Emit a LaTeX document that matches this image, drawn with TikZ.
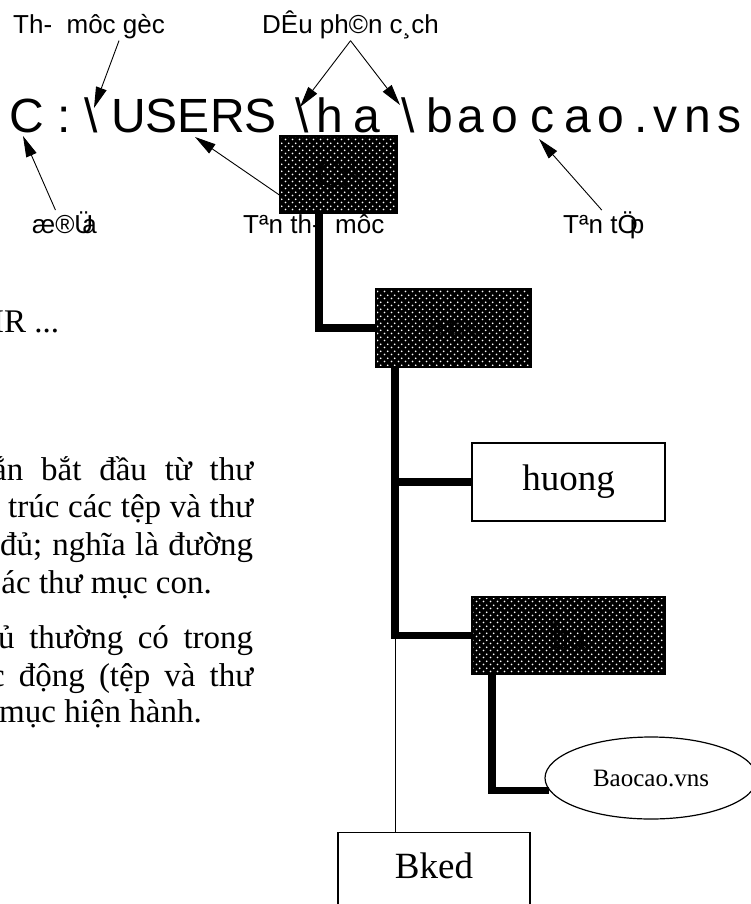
\documentclass[tikz,border=0pt]{standalone}
\usepackage{fontspec}
\setmainfont{Liberation Serif}
\newfontfamily\labelfont{Liberation Sans}
\usepackage{tikz}
\usetikzlibrary{shapes.geometric, arrows.meta, patterns.meta, calc}
\tikzdeclarepattern{
  name=boxdots,
  type=uncolored,
  bottom left={(0pt,0pt)},
  top right={(6.6pt,6.6pt)},
  tile size={(6.6pt,6.6pt)},
  code={
    \fill (1.65pt,1.65pt) circle (0.95pt);
    \fill (4.95pt,4.95pt) circle (0.95pt);
  }
}
\tikzstyle{darkbox} = [draw=black, line width=1.2pt, rectangle, inner sep=0pt, preaction={fill=black}, pattern=boxdots, pattern color=white, text=black, font=\fontsize{37}{44}\selectfont]
\tikzstyle{plainbox} = [draw=black, line width=1.2pt, rectangle, inner sep=0pt, fill=white, font=\fontsize{37}{44}\selectfont]
\tikzstyle{tagtext} = [font=\labelfont\fontsize{26}{31}\selectfont, inner sep=1pt, anchor=base west]
\tikzstyle{pathchar} = [font=\labelfont\fontsize{48}{58}\selectfont, inner sep=0pt, anchor=base]
\tikzstyle{parline} = [font=\fontsize{33}{40}\selectfont, inner sep=0pt, anchor=base west]
\tikzstyle{pointer} = [line width=0.9pt, -{Triangle[length=21pt,width=11pt]}]
\tikzstyle{treeline} = [line width=7.5pt]
\tikzstyle{thinline} = [line width=1pt]

\begin{document}
\begin{tikzpicture}[x=1pt, y=-1pt]
    \useasboundingbox (0,0) rectangle (751,904);
    \clip (0,0) rectangle (751,904);

    % Captions above the path
    \node (lblRoot) [tagtext] at (12,34) {Th-\ \ môc gèc};
    \node (lblSep) [tagtext] at (261,34) {DÊu ph©n c¸ch};

    % The path, letter by letter
    \node (pC) [pathchar] at (27,133) {C};
    \node (pColon) [pathchar] at (64,133) {:};
    \node (pBs1) [pathchar] at (91,133) {\textbackslash};
    \node (pUsers) [pathchar] at (194,133) {USERS};
    \node (pBs2) [pathchar] at (302,133) {\textbackslash};
    \node (pH) [pathchar] at (330,133) {h};
    \node (pA1) [pathchar] at (367,133) {a};
    \node (pBs3) [pathchar] at (408,133) {\textbackslash};
    \node (pB) [pathchar] at (440,133) {b};
    \node (pA2) [pathchar] at (471,133) {a};
    \node (pO1) [pathchar] at (505,133) {o};
    \node (pC2) [pathchar] at (542,133) {c};
    \node (pA3) [pathchar] at (578,133) {a};
    \node (pO2) [pathchar] at (611,133) {o};
    \node (pDot) [pathchar] at (641,133) {.};
    \node (pV) [pathchar] at (665,133) {v};
    \node (pN) [pathchar] at (698,133) {n};
    \node (pS) [pathchar] at (729,133) {s};

    % Captions below the path
    \node (lblDrive) [tagtext] at (31,233) {æ®Ü\kern-11pt a};
    \node (lblDir) [tagtext] at (242,233) {Tªn th-\ \ môc};
    \node (lblFile) [tagtext] at (562,233) {Tªn tÖ\kern-8pt p};

    % Left column text
    \node (txtDir) [parline] at (-7,332) {IR ...};
    \node (txtA1) [parline] at (-8,480) {\makebox[261pt][s]{ắn bắt đầu từ thư}};
    \node (txtA2) [parline] at (8,517) {\makebox[245pt][s]{trúc các tệp và thư}};
    \node (txtA3) [parline] at (0,555) {\makebox[253pt][s]{đủ; nghĩa là đường}};
    \node (txtA4) [parline, anchor=base east] at (212,593) {ác thư mục con.};
    \node (txtB1) [parline] at (-2,648) {\makebox[255pt][s]{ủ thường có trong}};
    \node (txtB2) [parline] at (-10,686) {\makebox[263pt][s]{c động (tệp và thư}};
    \node (txtB3) [parline] at (-1,722) {mục hiện hành.};

    % Directory tree
    \node (rootBox) [darkbox, minimum width=117pt, minimum height=77pt] at (338.5,174.5) {C:\textbackslash};
    \node (usersBox) [darkbox, minimum width=155pt, minimum height=78pt, font=\fontsize{20}{24}\selectfont] at (453.5,328) {USERS};
    \node (huongBox) [plainbox, minimum width=193pt, minimum height=78pt] at (568.5,482) {huong};
    \node (haBox) [darkbox, minimum width=193pt, minimum height=77pt] at (568.5,635.5) {ha};
    \node (fileNode) [draw, ellipse, line width=1.2pt, fill=white, inner sep=0pt, minimum width=212pt, minimum height=82pt, font=\fontsize{25}{30}\selectfont] at (651,778) {Baocao.vns};
    \node (bkedBox) [plainbox, anchor=north, minimum width=192pt, minimum height=80pt, text height=25pt, text depth=14pt] at (434,832) {Bked};

    % Tree branches
    \coordinate (trunk) at ([xshift=-58.5pt]usersBox.south);
    \draw[treeline] ([xshift=-19.5pt]rootBox.south) |- (usersBox.west);
    \draw[treeline] (trunk) |- (haBox.west);
    \draw[treeline] (trunk |- huongBox.west) -- (huongBox.west);
    \draw[thinline] (trunk |- haBox.west) -- (trunk |- bkedBox.north);
    \draw[treeline] ([xshift=-76.5pt]haBox.south) |- (fileNode.187);

    % Pointers from the captions
    \coordinate (tipRoot) at (94,108);
    \coordinate (tipSepL) at (300,107);
    \coordinate (tipSepR) at (400,105);
    \coordinate (tipDrive) at (23,136);
    \coordinate (tipDir) at (195,137);
    \coordinate (tipFile) at (539,139);
    \draw[pointer] ([xshift=30pt]lblRoot.south) -- (tipRoot);
    \draw[pointer] (lblSep.south) -- (tipSepL);
    \draw[pointer] (lblSep.south) -- (tipSepR);
    \draw[pointer] ([xshift=-9pt]lblDrive.north) -- (tipDrive);
    \draw[pointer] ([yshift=-20.5pt]rootBox.west) -- (tipDir);
    \draw[pointer] ([xshift=-2pt]lblFile.north) -- (tipFile);
\end{tikzpicture}
\end{document}
